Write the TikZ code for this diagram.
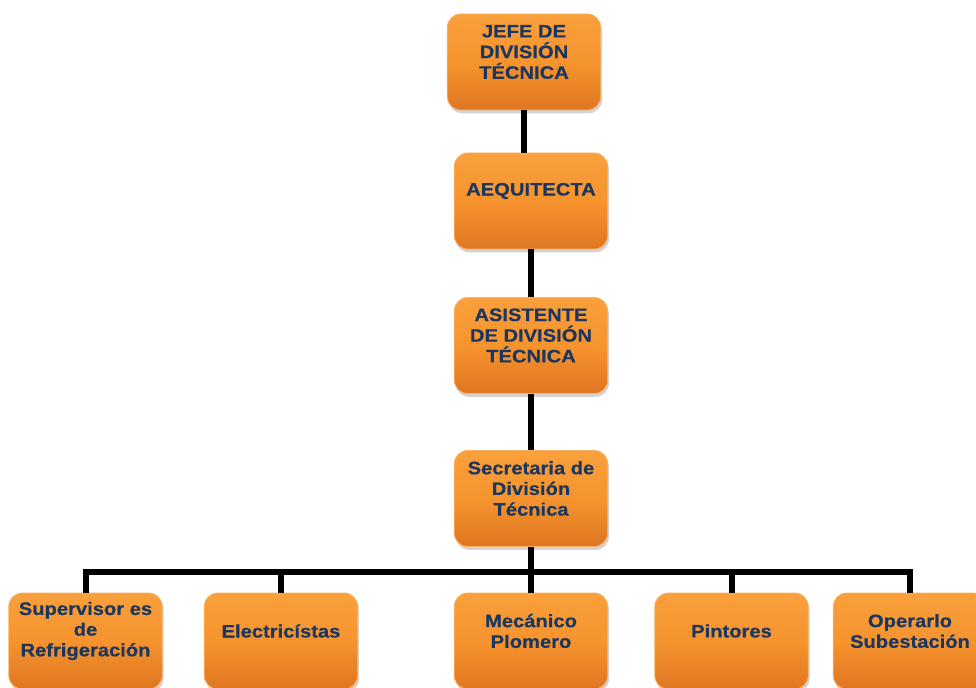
\documentclass[tikz,border=0pt]{standalone}
\usepackage{fontspec}
\setmainfont{Liberation Sans}[FakeStretch=1.12,BoldFeatures={FakeBold=0.5}]
\usetikzlibrary{shadows}
\usetikzlibrary{calc}
\definecolor{boxtop}{RGB}{249,160,60}
\definecolor{boxmid}{RGB}{246,148,46}
\definecolor{boxbot}{RGB}{222,118,34}
\definecolor{boxline}{RGB}{250,178,98}
\definecolor{boxtext}{RGB}{28,55,95}
\tikzstyle{orgbox}=[rectangle,rounded corners=10pt,minimum width=115pt,minimum height=72pt,top color=boxtop,bottom color=boxbot,middle color=boxmid,draw=boxline,line width=0.6pt,drop shadow={shadow xshift=1pt,shadow yshift=-2.5pt,opacity=0.35}]
\tikzstyle{orgtext}=[align=center,text=boxtext,font=\bfseries\fontsize{13.5}{15.5}\selectfont,inner sep=0pt]
\tikzstyle{link}=[draw,line width=4.5pt,black]

\begin{document}
\begin{tikzpicture}[x=0.75pt,y=-0.75pt]

  \useasboundingbox (0,0) rectangle (976,688);

  % chain of command
  \foreach \x/\y/\name/\label in {524/62/jefe/{JEFE DE\\DIVISIÓN\\TÉCNICA},
                                  531/201/arq/{AEQUITECTA},
                                  531/345.5/asis/{ASISTENTE\\DE DIVISIÓN\\TÉCNICA},
                                  531/498.5/secr/{Secretaria de\\División\\Técnica}}
  {
    \node[orgbox] (\name) at (\x,\y) {};
    \node[orgtext] (\name-t) at ($(\name.center)+(0,-10)$) {\label};
  }

  % staff row
  \foreach \x/\y/\name/\label in {85.5/641/sup/{Supervisor es\\de\\Refrigeración},
                                  281/641/elec/{Electricístas},
                                  531/641/mec/{Mecánico\\Plomero},
                                  731.5/641/pint/{Pintores},
                                  910/641/oper/{Operarlo\\Subestación}}
  {
    \node[orgbox] (\name) at (\x,\y) {};
    \node[orgtext] (\name-t) at ($(\name.center)+(0,-10)$) {\label};
  }

  \draw[link] (jefe) -- (jefe |- arq.north);
  \draw[link] (arq) -- (asis);
  \draw[link] (asis) -- (secr);

  \coordinate (bus) at (531,572);
  \draw[link] (secr) -- (bus);
  \foreach \name in {sup,elec,mec,pint,oper}
    \draw[link] (\name.north) |- (bus);

\end{tikzpicture}
\end{document}
